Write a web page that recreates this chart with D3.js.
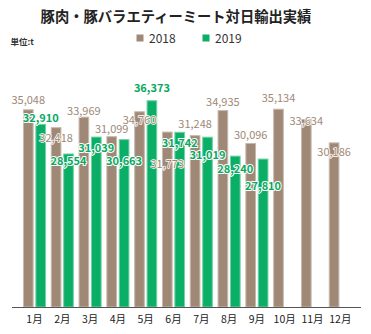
<!DOCTYPE html>
<html><head><meta charset="utf-8">
<script src="https://cdn.jsdelivr.net/npm/d3@7"></script>
<style>
body{margin:0;background:#fff;}
text{font-family:"Noto Sans CJK JP","Noto Sans",sans-serif;}
</style></head>
<body><svg id="c" width="371" height="334"></svg>
<script>
const title = "豚肉・豚バラエティーミート対日輸出実績";
const unitLabel = "単位:t";
const months = ["1月","2月","3月","4月","5月","6月","7月","8月","9月","10月","11月","12月"];
const seriesNames = ["2018","2019"];
const values2018 = [35048,32418,33969,31099,34760,31773,31248,34935,30096,35134,33634,30186];
const values2019 = [32910,28554,31039,30663,36373,31742,31019,28240,27810,null,null,null];

// label placement (layout only): vertical shift of each value label relative to its bar top, px
const labelShift2018 = [-9,11,-6,-7,9,32,-11,-8,-8,-11,2,10];
const labelShift2019 = [-6,8,11,22,-12,11,18,13,27,0,0,0];

const colors = ["#a08876","#0bae66"];
const edgeColors = ["#c9b9ab","#6fd3a2"];
const labelColors = ["#a08876","#0aa862"];

const svg = d3.select("#c");
const baseY = 307;
const y = d3.scaleLinear().domain([6000, 37000]).range([baseY, 96]);
const x = d3.scaleBand().domain(months).range([20.6, 354.2]).paddingInner(0.17).paddingOuter(0.085);
const xs = d3.scaleBand().domain(seriesNames).range([0, x.bandwidth()]).paddingInner(0.14);

svg.append("text").attr("x",176).attr("y",22).attr("text-anchor","middle")
  .attr("font-size",14.3).attr("font-weight","bold").attr("fill","#222").text(title);
svg.append("text").attr("x",10.5).attr("y",44.5).attr("font-size",8.5).attr("font-weight","bold").attr("fill","#333").text(unitLabel);

const legX = [136.5, 202.5];
seriesNames.forEach((s,i)=>{
  svg.append("rect").attr("x",legX[i]).attr("y",34.5).attr("width",7).attr("height",7).attr("fill",colors[i]);
  svg.append("text").attr("x",legX[i]+12.5).attr("y",42.5).attr("font-size",12).attr("fill","#333").text(s);
});

const data = [values2018, values2019];
const shifts = [labelShift2018, labelShift2019];
const bars = [];
months.forEach((m,mi)=>{
  seriesNames.forEach((s,si)=>{
    const v = data[si][mi];
    if (v==null) return;
    bars.push({m,s,si,v,sh:shifts[si][mi]});
  });
});

const g = svg.append("g");
g.selectAll("rect.bar").data(bars).join("rect").attr("class","bar")
  .attr("x",d=>x(d.m)+xs(d.s)+0.5)
  .attr("y",d=>y(d.v)+0.5)
  .attr("width",xs.bandwidth()-1)
  .attr("height",d=>baseY-y(d.v)-0.5)
  .attr("fill",d=>colors[d.si])
  .attr("stroke",d=>edgeColors[d.si]).attr("stroke-width",1);

// axis
const xAxis = d3.axisBottom(x).tickSize(0).tickPadding(9);
const ax = svg.append("g").attr("transform",`translate(0,${baseY})`).call(xAxis);
ax.select(".domain").remove();
ax.selectAll("text").attr("font-size",10.5).attr("fill","#222")
  .attr("font-family",'"Noto Sans CJK JP","Noto Sans",sans-serif');
svg.append("line").attr("x1",12).attr("x2",361).attr("y1",baseY+0.5).attr("y2",baseY+0.5)
  .attr("stroke","#555").attr("stroke-width",1);

// labels
const fmt = d3.format(",");
[0,1].forEach(si=>{
  const lb = bars.filter(d=>d.si===si);
  svg.append("g").selectAll("text").data(lb).join("text")
    .attr("x",d=>x(d.m)+xs(d.s)+xs.bandwidth()/2)
    .attr("y",d=>y(d.v)+d.sh+4)
    .attr("text-anchor","middle")
    .attr("font-size",11)
    .attr("font-weight", si===1 ? "bold":"normal")
    .attr("fill",labelColors[si])
    .attr("stroke","#fff").attr("stroke-width",si===1?2:1.5).attr("paint-order","stroke")
    .attr("stroke-linejoin","round")
    .text(d=>fmt(d.v));
});
</script></body></html>
